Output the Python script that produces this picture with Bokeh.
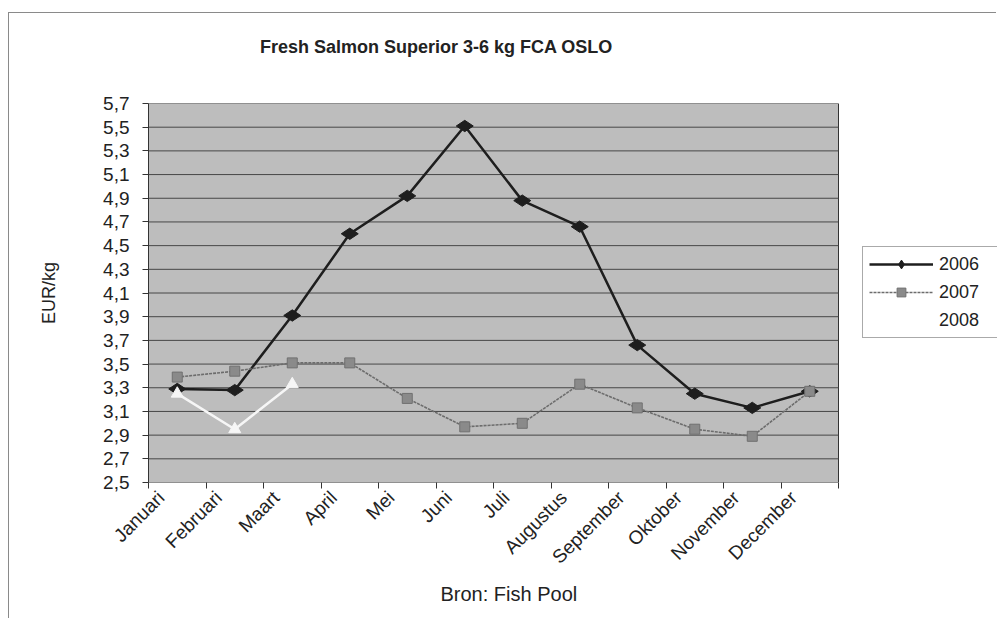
import math
from bokeh.plotting import figure
from bokeh.models import (FixedTicker, CustomJSTickFormatter, Legend, LegendItem,
                          LinearAxis, Title, Range1d)
from bokeh.embed import file_html
from bokeh.resources import INLINE

# ---------------- data ----------------
months = ["Januari", "Februari", "Maart", "April", "Mei", "Juni", "Juli",
          "Augustus", "September", "Oktober", "November", "December"]
y2006 = [3.29, 3.28, 3.91, 4.60, 4.92, 5.51, 4.88, 4.66, 3.66, 3.25, 3.13, 3.27]
y2007 = [3.39, 3.44, 3.51, 3.51, 3.21, 2.97, 3.00, 3.33, 3.13, 2.95, 2.89, 3.27]
y2008 = [3.25, 2.95, 3.33]
years = ["2006", "2007", "2008"]
y_ticks = [2.5, 2.7, 2.9, 3.1, 3.3, 3.5, 3.7, 3.9, 4.1, 4.3, 4.5, 4.7, 4.9,
           5.1, 5.3, 5.5, 5.7]
title_text = "Fresh Salmon Superior 3-6 kg FCA OSLO"
source_text = "Bron: Fish Pool"
y_label = "EUR/kg"

# ---------------- layout (canvas starts at page x=9, y=13) ----------------
OX, OY = 9, 13
W, H = 997 - OX, 619 - OY
FL, FT, FB = 148 - OX, 103 - OY, 482 - OY
PLOT_W = 838 - 148                       # width of the grey plot area
FONT = "Liberation Sans"
TXT = "#222222"
TICK_FS = "19px"

n = len(months)
x_pos = [i + 0.5 for i in range(n)]      # points sit between ticks
x_end = n * (W - FL) / PLOT_W            # frame continues right to hold legend
px_per_cat = PLOT_W / n

p = figure(width=W, height=H, output_backend="svg", toolbar_location=None,
           x_range=Range1d(0, x_end), y_range=Range1d(y_ticks[0], y_ticks[-1]),
           min_border_left=FL, min_border_right=0,
           min_border_top=FT, min_border_bottom=H - FB,
           styles={"margin-left": f"{OX - 1}px", "margin-top": f"{OY - 1}px",
                   "border-top": "1px solid #8a8a8a",
                   "border-left": "1px solid #8a8a8a"})
p.border_fill_color = "white"
p.background_fill_color = "white"
p.outline_line_color = None
p.xgrid.visible = False
p.ygrid.visible = False
p.title.text = ""
p.title.visible = False

# y axis
yax = p.yaxis[0]
yax.ticker = FixedTicker(ticks=y_ticks)
yax.formatter = CustomJSTickFormatter(code="return tick.toFixed(1).replace('.', ',');")
yax.major_label_text_font = FONT
yax.major_label_text_font_size = TICK_FS
yax.major_label_text_color = TXT
yax.major_tick_out = 6
yax.major_tick_in = 0
yax.minor_tick_out = 0
yax.minor_tick_in = 0
yax.major_label_standoff = 13
yax.axis_line_color = "#333333"
yax.major_tick_line_color = "#333333"
yax.axis_label = y_label
yax.axis_label_text_font = FONT
yax.axis_label_text_font_size = "18px"
yax.axis_label_text_font_style = "normal"
yax.axis_label_text_color = TXT
yax.axis_label_standoff = 41

# x axis: visible tick marks on category boundaries (minor ticks),
# month labels slightly right of each boundary (invisible major ticks)
label_shift = 0.22
xax = p.xaxis[0]
xax.ticker = FixedTicker(ticks=[i + label_shift for i in range(n)],
                         minor_ticks=list(range(n + 1)))
xax.major_label_overrides = {i + label_shift: m for i, m in enumerate(months)}
xax.major_label_orientation = math.pi / 4
xax.major_label_text_font = FONT
xax.major_label_text_font_size = TICK_FS
xax.major_label_text_color = TXT
xax.major_label_standoff = 6
xax.major_tick_out = 6
xax.major_tick_in = 0
xax.major_tick_line_color = None
xax.minor_tick_out = 6
xax.minor_tick_in = 0
xax.minor_tick_line_color = "#333333"
xax.axis_line_color = None

# chart title, drawn as the single label of an invisible top axis
title_x = (436 - 148) / px_per_cat
tax = LinearAxis(ticker=FixedTicker(ticks=[title_x]))
tax.major_label_overrides = {title_x: title_text}
tax.major_label_text_font = FONT
tax.major_label_text_font_size = "18px"
tax.major_label_text_font_style = "bold"
tax.major_label_text_color = TXT
tax.major_label_standoff = 47
tax.major_tick_out = 0
tax.major_tick_in = 0
tax.minor_tick_out = 0
tax.minor_tick_in = 0
tax.axis_line_color = None
tax.major_tick_line_color = None
tax.minor_tick_line_color = None
p.add_layout(tax, "above")

# source note under the axis
p.add_layout(Title(text=source_text, align="left", offset=292, standoff=9,
                   vertical_align="top", text_font=FONT, text_font_size="20px",
                   text_font_style="normal", text_color=TXT), "below")

# ---------------- plot area ----------------
p.quad(left=[0], right=[n], bottom=[y_ticks[0]], top=[y_ticks[-1]],
       fill_color="#bdbdbd", line_color="#333333", line_width=1)
inner = y_ticks[1:-1]
p.segment(x0=[0] * len(inner), y0=inner, x1=[n] * len(inner), y1=inner,
          line_color="#474747", line_width=1)

# ---------------- series ----------------
r06l = p.line(x_pos, y2006, line_color="#1e1e1e", line_width=2.5)
r06m = p.scatter(x_pos, y2006, marker="diamond", size=17, angle=math.pi / 2,
                 fill_color="#1e1e1e", line_color="#1e1e1e")
r07l = p.line(x_pos, y2007, line_color="#6c6c6c", line_width=1.6, line_dash="3 1")
r07m = p.scatter(x_pos, y2007, marker="square", size=10,
                 fill_color="#8a8a8a", line_color="#707070")
r08l = p.line(x_pos[:len(y2008)], y2008, line_color="#f6f6f6", line_width=2.5)
r08m = p.scatter(x_pos[:len(y2008)], y2008, marker="triangle", size=12,
                 fill_color="#f6f6f6", line_color="#f6f6f6")
# legend proxies for the (white) 2008 series so it shows on white
p08l = p.line(x=[], y=[], line_color="#cfcfcf", line_width=1.5, line_dash="1 1")
p08m = p.scatter(x=[], y=[], marker="triangle", size=9,
                 fill_color="#e2e2e2", line_color="#d0d0d0")

# legend (inside the widened frame, right of the plot area)
legend = Legend(items=[LegendItem(label=years[0], renderers=[r06l, r06m]),
                       LegendItem(label=years[1], renderers=[r07l, r07m]),
                       LegendItem(label=years[2], renderers=[p08l, p08m])],
                location=(862 - 148, 482 - 338))
legend.label_text_font = FONT
legend.label_text_font_size = "18px"
legend.label_text_color = TXT
legend.glyph_width = 64
legend.glyph_height = 22
legend.label_height = 22
legend.label_width = 54
legend.label_standoff = 6
legend.spacing = 6
legend.padding = 6
legend.margin = 0
legend.border_line_color = "#555555"
legend.border_line_width = 1
legend.background_fill_color = "white"
legend.background_fill_alpha = 1
p.add_layout(legend)

open("out.html", "w").write(file_html(p, INLINE))
